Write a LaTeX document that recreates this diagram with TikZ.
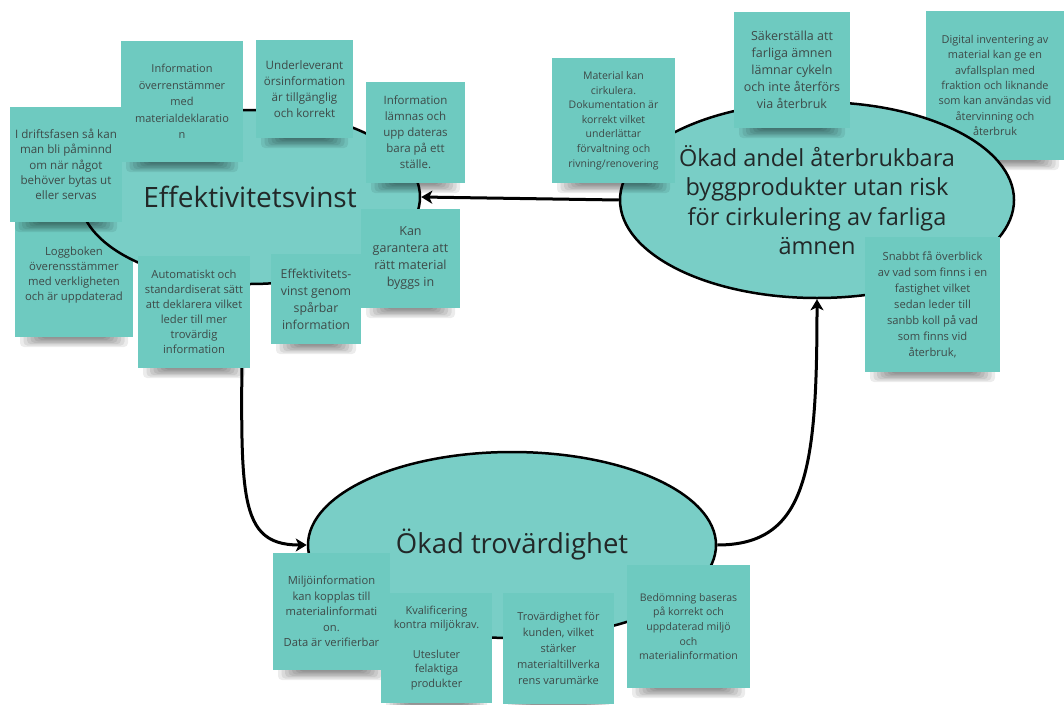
\documentclass[tikz,border=0pt]{standalone}
\usepackage{fontspec}
\setmainfont{Open Sans}
\usetikzlibrary{shapes.geometric,arrows.meta}

\definecolor{notefill}{RGB}{110,202,192}
\definecolor{blobfill}{RGB}{121,206,198}
\definecolor{notetext}{RGB}{62,74,72}
\definecolor{bigtext}{RGB}{34,40,40}

\newcommand{\fs}[2]{\fontsize{#1}{#2}\selectfont}

\tikzset{
  stickynote/.style={rectangle, fill=notefill, inner sep=0pt, align=center,
    text=notetext, font=\fs{11.2}{15.6}},
  blob/.style={ellipse, draw=black, line width=2.5pt, fill=blobfill,
    inner sep=0pt, align=center, text=bigtext},
  flow/.style={draw=black, line width=3pt,
    -{Stealth[length=11pt,width=13pt,inset=3pt]}},
  noteshade/.style={fill=black, opacity=0.075, rounded corners=4pt},
}

% sticky note with a soft shadow under its lower edge
% [options]{name}{x1}{y1}{x2}{y2}{text}
\newcommand{\postit}[7][]{%
  \foreach \k in {0,...,6}{%
    \path[noteshade] ({#3+5+3.5*\k},{#6-4}) rectangle ({#5-5-3.5*\k},{#6+10-1.4*\k});
  }
  \node[stickynote, minimum width={(#5-#3)*1pt}, minimum height={(#6-#4)*1pt}, #1]
    (#2) at ({(#3+#5)/2},{(#4+#6)/2}) {#7};
}

\begin{document}
\begin{tikzpicture}[x=1pt,y=-1pt]
\fill[white] (0,0) rectangle (1064,704);
\useasboundingbox (0,0) rectangle (1064,704);

% notes that lie beneath the goal ellipses
\postit[font=\fs{11.3}{15}]{loggbok}{15}{214}{133}{337}
  {Loggboken\\överensstämmer\\med verkligheten\\och är uppdaterad}
\postit[font=\fs{10.9}{15.4}]{digital}{926}{11}{1064}{160}
  {Digital inventering av\\material kan ge en\\avfallsplan med\\fraktion och liknande\\som kan användas vid\\återvinning och\\återbruk}

% the three goals
\node[blob, minimum width=340pt, minimum height=174pt, font=\fs{28}{34}]
  (eff) at (250,197) {Effektivitetsvinst};
\node[blob, minimum width=394pt, minimum height=196pt, font=\fs{23.5}{29.5}]
  (okad) at (817,200) {Ökad andel återbrukbara\\byggprodukter utan risk\\för cirkulering av farliga\\ämnen};
\node[blob, minimum width=408pt, minimum height=186pt, font=\fs{27.5}{33}]
  (tro) at (512,545) {Ökad trovärdighet};

% the cycle
\draw[flow] (okad.west) -- (eff.east);
\draw[flow] (eff.265) .. controls +(0,200) and +(-75,0) .. (tro.west);
\draw[flow] (tro.east) .. controls +(90,0) and +(0,170) .. (okad.south);

% notes around Effektivitetsvinst
\postit[font=\fs{11.6}{15.3}]{drift}{10}{107}{122}{222}
  {I driftsfasen så kan\\man bli påminnd\\om när något\\behöver bytas ut\\eller servas}
\postit[font=\fs{11}{16.5}]{infodekl}{121}{41}{243}{162}
  {Information\\överrenstämmer\\med\\materialdeklaratio\\n}
\postit[font=\fs{11.6}{16}]{underlev}{256}{40}{353}{138}
  {Underleverant\\örsinformation\\är tillgänglig\\och korrekt}
\postit[font=\fs{11.5}{16}]{lamnas}{366}{82}{465}{183}
  {Information\\lämnas och\\upp dateras\\bara på ett\\ställe.}
\postit[font=\fs{12.5}{17}]{garantera}{361}{209}{460}{308}
  {Kan\\garantera att\\rätt material\\byggs in}
\postit[font=\fs{12.3}{17}]{sparbar}{271}{254}{361}{344}
  {Effektivitets-\\vinst genom\\spårbar\\information}
\postit[font=\fs{11.2}{15}]{auto}{138}{256}{250}{368}
  {Automatiskt och\\standardiserat sätt\\att deklarera vilket\\leder till mer\\trovärdig\\information}

% notes around the reuse goal
\postit[font=\fs{10.5}{14.6}]{cirkulera}{552}{58}{675}{183}
  {Material kan\\cirkulera.\\Dokumentation är\\korrekt vilket\\underlättar\\förvaltning och\\rivning/renovering}
\postit[font=\fs{12.5}{17}]{farliga}{734}{12}{850}{128}
  {Säkerställa att\\farliga ämnen\\lämnar cykeln\\och inte återförs\\via återbruk}
\postit[font=\fs{11.2}{16}]{overblick}{865}{237}{1000}{372}
  {Snabbt få överblick\\av vad som finns i en\\fastighet vilket\\sedan leder till\\sanbb koll på vad\\som finns vid\\återbruk,}

% notes around Ökad trovärdighet
\postit[font=\fs{11.2}{15.6}]{miljo}{273}{553}{390}{670}
  {Miljöinformation\\kan kopplas till\\materialinformati\\on.\\Data är verifierbar}
\postit[font=\fs{11}{14.6}]{kval}{381}{593}{492}{703}
  {Kvalificering\\kontra miljökrav.\\[14.6pt]Utesluter\\felaktiga\\produkter}
\postit[font=\fs{11}{16}]{kunden}{503}{593}{614}{704}
  {Trovärdighet för\\kunden, vilket\\stärker\\materialtillverka\\rens varumärke}
\postit[font=\fs{10.5}{14.7}]{bedomning}{627}{565}{750}{688}
  {Bedömning baseras\\på korrekt och\\uppdaterad miljö\\och\\materialinformation}
\end{tikzpicture}
\end{document}
